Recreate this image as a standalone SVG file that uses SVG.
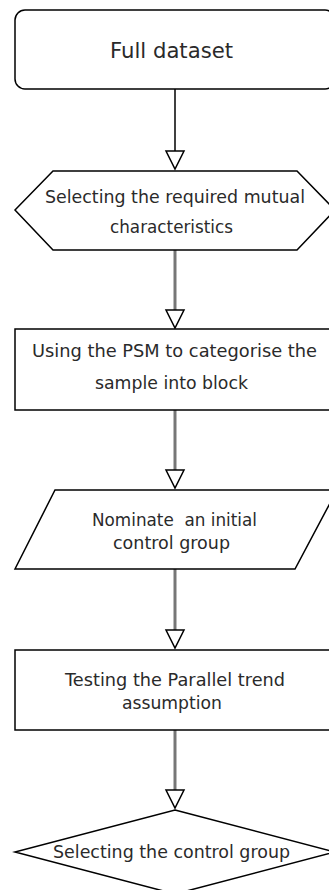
<svg xmlns="http://www.w3.org/2000/svg" width="329" height="890" viewBox="0 0 329 890">
<defs>
<style>
.shape{fill:#fff;stroke:#000;stroke-width:1.5}
.t{font-family:"DejaVu Sans",Verdana,sans-serif;fill:#2a2a2a;font-size:17px;white-space:pre}
.c1{fill:none;stroke:#000;stroke-width:1.5}
.c2{fill:none;stroke:#777;stroke-width:3}
.head{fill:#fff;stroke:#000;stroke-width:1.5;stroke-linejoin:miter}
</style>
</defs>
<rect width="329" height="890" fill="#fff"/>
<g id="connectors">
<path class="c1" d="M175 89V151"/>
<path class="head" d="M166 151H184L175 169Z"/>
<path class="c2" d="M175 250V310"/>
<path class="head" d="M166 310H184L175 328Z"/>
<path class="c2" d="M175 410V470"/>
<path class="head" d="M166 470H184L175 488Z"/>
<path class="c2" d="M175 569V630"/>
<path class="head" d="M166 630H184L175 648Z"/>
<path class="c2" d="M175 730V790"/>
<path class="head" d="M166 790H184L175 808Z"/>
</g>
<g id="n1">
<rect class="shape" x="15" y="10" width="320" height="79" rx="10"/>
<text class="t" x="110" y="58" style="font-size:21px" textLength="123" lengthAdjust="spacingAndGlyphs">Full dataset</text>
</g>
<g id="n2">
<polygon class="shape" points="15,210 53,171 297,171 335,210 297,250 53,250"/>
<text class="t" x="45" y="203" textLength="260" lengthAdjust="spacingAndGlyphs">Selecting the required mutual</text>
<text class="t" x="110" y="233" textLength="123" lengthAdjust="spacingAndGlyphs">characteristics</text>
</g>
<g id="n3">
<rect class="shape" x="15" y="329" width="320" height="81"/>
<text class="t" x="32" y="357" textLength="285" lengthAdjust="spacingAndGlyphs">Using the PSM to categorise the</text>
<text class="t" x="95" y="389" textLength="153" lengthAdjust="spacingAndGlyphs">sample into block</text>
</g>
<g id="n4">
<polygon class="shape" points="55,490 337,490 295,569 15,569"/>
<text class="t" x="92" y="526" textLength="165" lengthAdjust="spacingAndGlyphs" xml:space="preserve">Nominate  an initial</text>
<text class="t" x="113" y="549" textLength="117" lengthAdjust="spacingAndGlyphs">control group</text>
</g>
<g id="n5">
<rect class="shape" x="15" y="650" width="320" height="80"/>
<text class="t" x="65" y="686" textLength="220" lengthAdjust="spacingAndGlyphs">Testing the Parallel trend</text>
<text class="t" x="122" y="709" textLength="100" lengthAdjust="spacingAndGlyphs">assumption</text>
</g>
<g id="n6">
<polygon class="shape" points="175,810 335,852 175,894 15,852"/>
<text class="t" x="53" y="858" textLength="237" lengthAdjust="spacingAndGlyphs">Selecting the control group</text>
</g>
</svg>
